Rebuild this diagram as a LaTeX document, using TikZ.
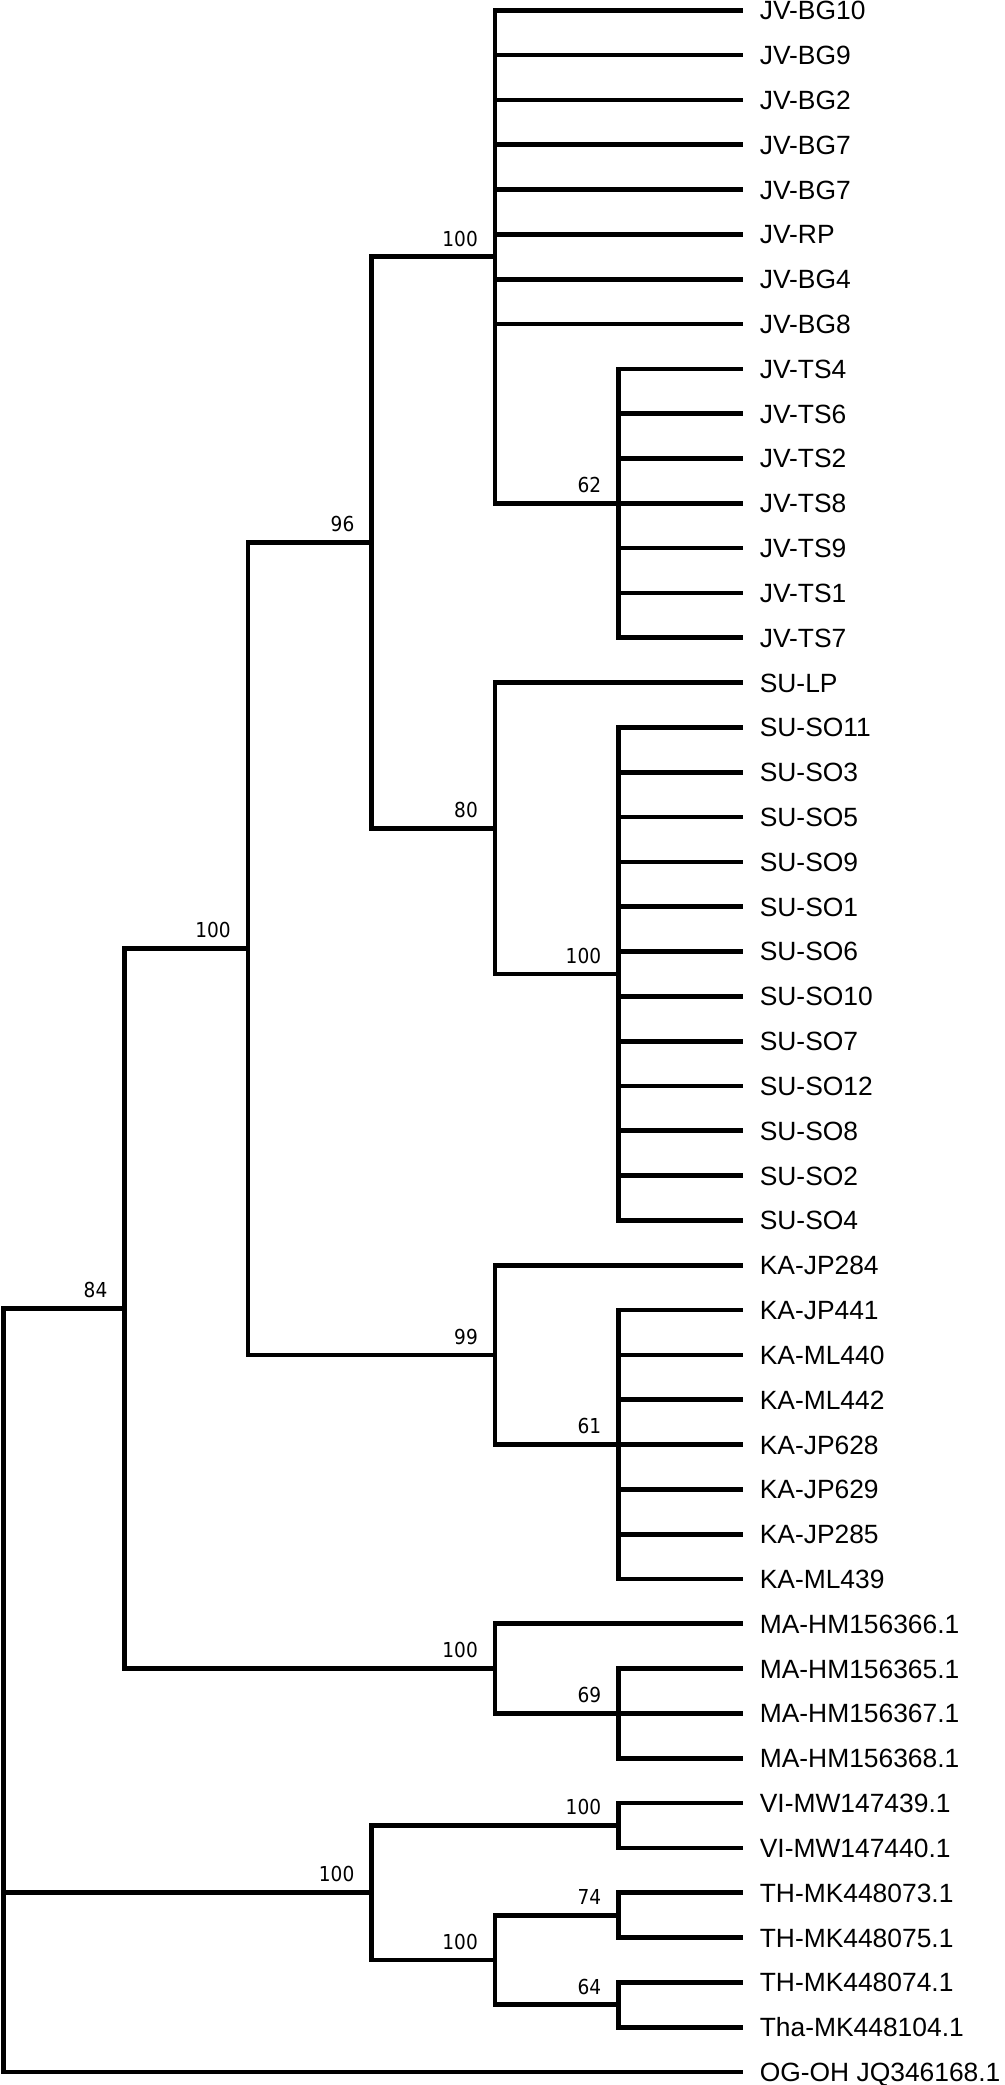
\documentclass[tikz,border=0pt]{standalone}
\usepackage{fontspec}
\newfontfamily\leaffont{Liberation Sans}
\newfontfamily\bsfont[FakeStretch=0.9]{DejaVu Sans}
\newcommand\yl[1]{\fpeval{10.3+44.82*(#1)}}
\tikzset{
  br/.style={line width=4.7pt, line join=miter, line cap=butt, draw=black},
  leaf/.style={anchor=west, inner xsep=16.6pt, inner ysep=0pt, text height=18.9pt, text depth=0pt,
    font=\leaffont\fontsize{26.4}{30}\selectfont},
  bs/.style={anchor=base east, inner sep=0pt, font=\bsfont\fontsize{20.6}{24}\selectfont}
}
\begin{document}
\begin{tikzpicture}[x=1pt,y=-1pt]
\useasboundingbox (0,0) rectangle (1004,2085);
% leaves
\foreach \nm [count=\i from 0] in {JV-BG10,JV-BG9,JV-BG2,JV-BG7,JV-BG7,JV-RP,JV-BG4,JV-BG8,
  JV-TS4,JV-TS6,JV-TS2,JV-TS8,JV-TS9,JV-TS1,JV-TS7,
  SU-LP,SU-SO11,SU-SO3,SU-SO5,SU-SO9,SU-SO1,SU-SO6,SU-SO10,SU-SO7,SU-SO12,SU-SO8,SU-SO2,SU-SO4,
  KA-JP284,KA-JP441,KA-ML440,KA-ML442,KA-JP628,KA-JP629,KA-JP285,KA-ML439,
  MA-HM156366.1,MA-HM156365.1,MA-HM156367.1,MA-HM156368.1,
  VI-MW147439.1,VI-MW147440.1,
  TH-MK448073.1,TH-MK448075.1,TH-MK448074.1,Tha-MK448104.1,
  OG-OH JQ346168.1}
  {\node[leaf] (L\i) at (743,{10.3+44.82*\i}) {\nm};}
% internal nodes
\coordinate (R)   at (3.3,  {\yl{37.484}});
\coordinate (A)   at (124.5,{\yl{28.96875}});
\coordinate (C)   at (248,  {\yl{20.9375}});
\coordinate (D)   at (371.5,{\yl{11.875}});
\coordinate (JV)  at (495,  {\yl{5.5}});
\coordinate (TS)  at (618.3,{\yl{11}});
\coordinate (SU)  at (495,  {\yl{18.25}});
\coordinate (SO)  at (618.3,{\yl{21.5}});
\coordinate (KA)  at (495,  {\yl{30}});
\coordinate (K61) at (618.3,{\yl{32}});
\coordinate (MA)  at (495,  {\yl{37}});
\coordinate (M69) at (618.3,{\yl{38}});
\coordinate (T)   at (371.5,{\yl{42}});
\coordinate (VI)  at (618.3,{\yl{40.5}});
\coordinate (TH)  at (495,  {\yl{43.5}});
\coordinate (TH1) at (618.3,{\yl{42.5}});
\coordinate (TH2) at (618.3,{\yl{44.5}});
% branches
\foreach \c in {A,T} \draw[br] (R) |- (\c);
\draw[br] (R) |- (L46.west);
\foreach \c in {C,MA} \draw[br] (A) |- (\c);
\foreach \c in {D,KA} \draw[br] (C) |- (\c);
\foreach \c in {JV,SU} \draw[br] (D) |- (\c);
\foreach \i in {0,...,7} \draw[br] (JV) |- (L\i.west);
\draw[br] (JV) |- (TS);
\foreach \i in {8,...,14} \draw[br] (TS) |- (L\i.west);
\draw[br] (SU) |- (L15.west);
\draw[br] (SU) |- (SO);
\foreach \i in {16,...,27} \draw[br] (SO) |- (L\i.west);
\draw[br] (KA) |- (L28.west);
\draw[br] (KA) |- (K61);
\foreach \i in {29,...,35} \draw[br] (K61) |- (L\i.west);
\draw[br] (MA) |- (L36.west);
\draw[br] (MA) |- (M69);
\foreach \i in {37,...,39} \draw[br] (M69) |- (L\i.west);
\foreach \c in {VI,TH} \draw[br] (T) |- (\c);
\foreach \i in {40,41} \draw[br] (VI) |- (L\i.west);
\foreach \c in {TH1,TH2} \draw[br] (TH) |- (\c);
\foreach \i in {42,43} \draw[br] (TH1) |- (L\i.west);
\foreach \i in {44,45} \draw[br] (TH2) |- (L\i.west);
% bootstrap labels
\foreach \n/\v in {A/84,C/100,D/96,JV/100,TS/62,SU/80,SO/100,KA/99,K61/61,MA/100,M69/69,T/100,VI/100,TH/100,TH1/74,TH2/64}
  \node[bs] (b\n) at ([xshift=-17pt,yshift=10.8pt]\n) {\v};
\end{tikzpicture}
\end{document}
